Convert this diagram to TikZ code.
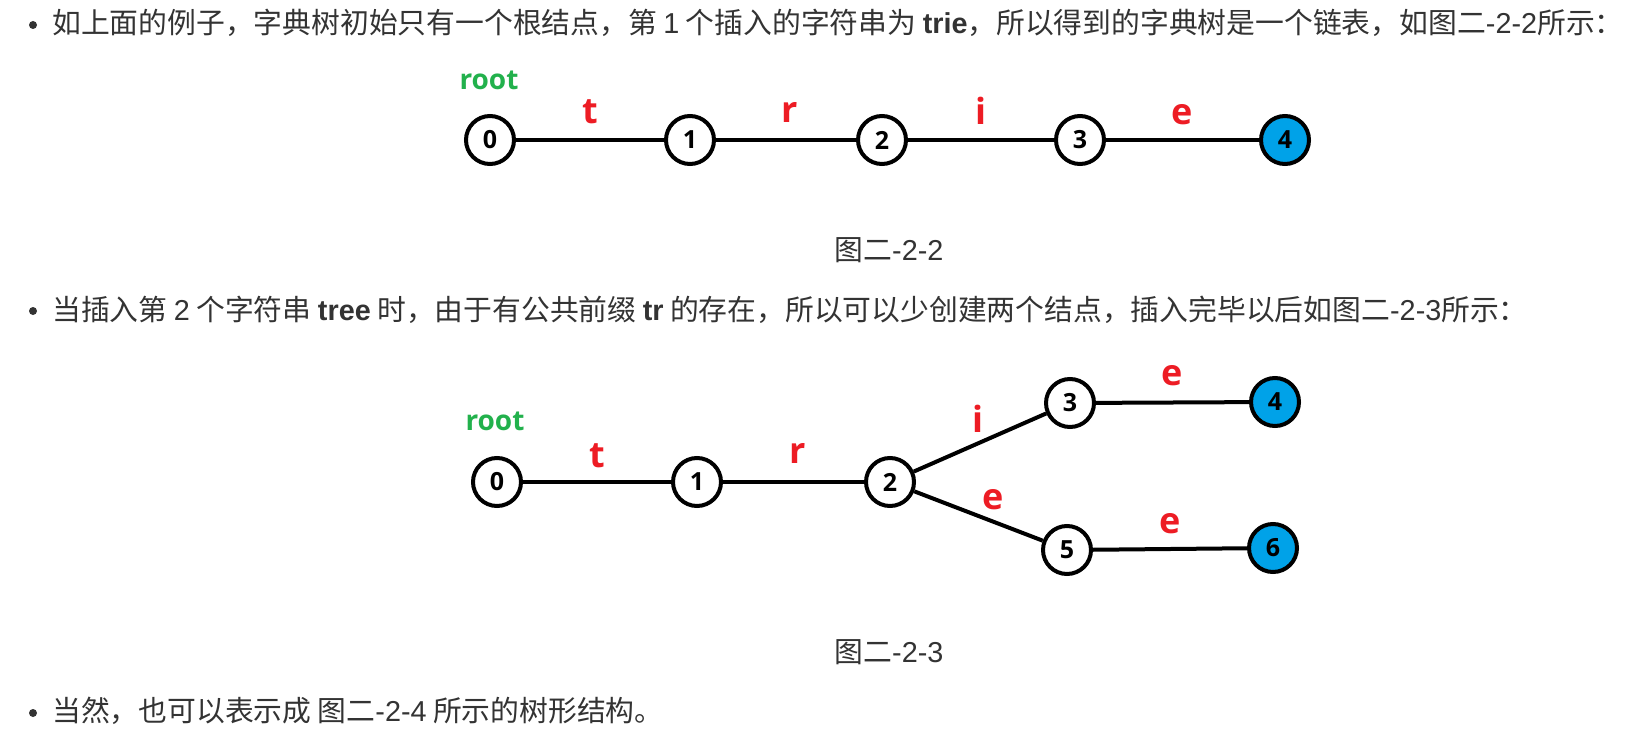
\documentclass[tikz,border=0pt]{standalone}
\usepackage{fontspec}
\setmainfont{Noto Sans CJK SC}
\newfontfamily\lat{Liberation Sans}
\newfontfamily\lblf{Open Sans}[UprightFont={* Bold}]
\newcommand\La[1]{{\lat #1}}
\newcommand\Lb[1]{{\lat\bfseries #1}}
\definecolor{textgray}{HTML}{333333}
\definecolor{labred}{HTML}{ED1C24}
\definecolor{rootgreen}{HTML}{22B14C}
\definecolor{leafblue}{HTML}{00A2E8}
\begin{document}
\begin{tikzpicture}[x=1pt,y=-1pt,
  txt/.style={anchor=base west, inner sep=0pt, text=textgray, font=\fontsize{28.8}{32}\selectfont},
  captxt/.style={anchor=base, inner sep=0pt, text=textgray, font=\fontsize{28.8}{32}\selectfont},
  bul/.style={circle, fill=textgray, inner sep=0pt, minimum size=8pt},
  st/.style={circle, draw=black, line width=4pt, minimum size=48pt, inner sep=0pt, fill=white, font=\lblf\fontsize{25}{25}\selectfont},
  leaf/.style={st, fill=leafblue},
  edg/.style={line width=4pt, draw=black},
  lab/.style={text=labred, font=\lblf\fontsize{36}{36}\selectfont, inner sep=0pt},
  rootlab/.style={text=rootgreen, font=\lblf\fontsize{28}{28}\selectfont, inner sep=0pt}
]
\useasboundingbox (0,0) rectangle (1628,752);
\fill[white] (0,0) rectangle (1628,752);

% text lines
\node[bul] (b1) at (33,25) {};
\node[txt] (l1) at (52,34) {如上面的例子，字典树初始只有一个根结点，第 \La{1} 个插入的字符串为 \Lb{trie}，所以得到的字典树是一个链表，如图二\La{-2-2}所示：};
\node[bul] (b2) at (33,311) {};
\node[txt] (l2) at (52,320) {当插入第 \La{2} 个字符串 \Lb{tree} 时，由于有公共前缀 \Lb{tr} 的存在，所以可以少创建两个结点，插入完毕以后如图二\La{-2-3}所示：};
\node[bul] (b3) at (33,713) {};
\node[txt] (l3) at (52,721) {当然，也可以表示成 图二\La{-2-4} 所示的树形结构。};

\node[captxt] (c1) at (889,260) {图二\La{-2-2}};
\node[captxt] (c2) at (889,662) {图二\La{-2-3}};

% diagram 1
\node[st] (a0) at (490,140) {0};
\node[st] (a1) at (690,140) {1};
\node[st] (a2) at (882,140) {2};
\node[st] (a3) at (1080,140) {3};
\node[leaf] (a4) at (1285,140) {4};
\node[rootlab] (ra) at (489,80) {root};
\draw[edg] (a0) -- node[lab, midway, anchor=base, yshift=17pt] {t} (a1);
\draw[edg] (a1) -- node[lab, midway, anchor=base, yshift=18pt, xshift=4pt] {r} (a2);
\draw[edg] (a2) -- node[lab, midway, anchor=base, yshift=16pt] {i} (a3);
\draw[edg] (a3) -- node[lab, midway, anchor=base, yshift=16pt] {e} (a4);

% diagram 2
\node[st] (b0n) at (497,482) {0};
\node[st] (b1n) at (697,482) {1};
\node[st] (b2n) at (890,482) {2};
\node[st] (b3n) at (1070,403) {3};
\node[leaf] (b4n) at (1275,402) {4};
\node[st] (b5n) at (1067,550) {5};
\node[leaf] (b6n) at (1273,548) {6};
\node[rootlab] (rb) at (495,421) {root};
\draw[edg] (b0n) -- node[lab, midway, anchor=base, yshift=15pt] {t} (b1n);
\draw[edg] (b1n) -- node[lab, midway, anchor=base, yshift=19pt, xshift=4pt] {r} (b2n);
\draw[edg] (b2n) -- node[lab, midway, xshift=-2pt, yshift=24pt] {i} (b3n);
\draw[edg] (b2n) -- node[lab, midway, xshift=15pt, yshift=16pt] {e} (b5n);
\draw[edg] (b3n) -- node[lab, midway, anchor=base, yshift=17pt] {e} (b4n);
\draw[edg] (b5n) -- node[lab, midway, anchor=base, yshift=16pt] {e} (b6n);
\end{tikzpicture}
\end{document}
